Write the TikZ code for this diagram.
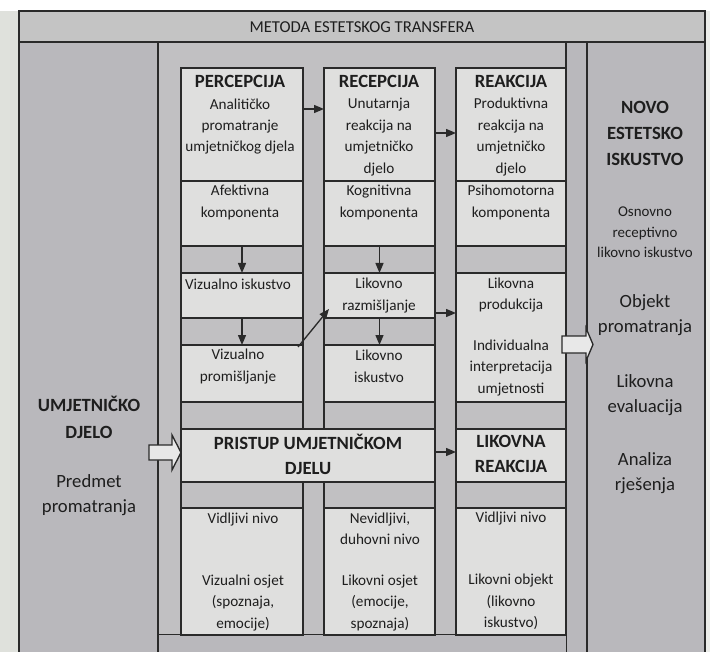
\documentclass[tikz,border=0pt]{standalone}
\usepackage{fontspec}
\setmainfont{Carlito}
\usetikzlibrary{arrows.meta}
\definecolor{colgray}{HTML}{B9B8BC}
\definecolor{titlegray}{HTML}{C4C4C4}
\definecolor{midgray}{HTML}{C1C0C2}
\definecolor{boxfill}{HTML}{DFDFDE}
\definecolor{arrfill}{HTML}{E8E8E8}
\definecolor{linec}{HTML}{2A2A2A}
\definecolor{txtc}{HTML}{1E1E1E}
\definecolor{margin}{HTML}{DFE1DC}
\begin{document}
\begin{tikzpicture}[x=0.75pt,y=-0.75pt,
  line width=1pt,
  frame/.style={draw=linec,line width=1pt},
  box/.style={draw=linec,fill=boxfill,line width=1pt,inner sep=0pt,outer sep=0pt,anchor=north west},
  bx/.style 2 args={box,minimum width={#1*0.75pt},minimum height={#2*0.75pt}},
  arr/.style={draw=linec,line width=1pt,-{Triangle[length=7.5pt,width=6pt]}},
  blockarr/.style={draw=linec,fill=arrfill,line width=1pt,line join=miter},
  body/.style={text=txtc,align=center,inner sep=0pt,font=\fontsize{11.4}{16.1}\selectfont},
  small/.style={text=txtc,align=center,inner sep=0pt,font=\fontsize{11.2}{15.5}\selectfont},
  hd/.style={text=txtc,align=center,inner sep=0pt,font=\fontsize{14}{19.2}\selectfont\bfseries},
  big/.style={text=txtc,align=center,inner sep=0pt,font=\fontsize{14}{18.8}\selectfont},
  ttl/.style={text=txtc,align=center,inner sep=0pt,font=\fontsize{12.5}{15}\selectfont}]
\useasboundingbox (0,0) rectangle (710,652);
% page margins
\fill[white] (0,0) rectangle (710,652);
\fill[margin] (0,11) rectangle (19,652);
\fill[margin!60!white] (705,11) rectangle (710,652);
% frames
\path[frame,fill=titlegray] (19,11) rectangle (705,42);
\path[frame,fill=colgray] (19,42) rectangle (158,656);
\path[frame,fill=midgray] (158,42) rectangle (566,635);
\path[frame,fill=colgray] (566,42) rectangle (587,656);
\path[frame,fill=colgray] (587,42) rectangle (705,656);
\fill[colgray] (158,635) rectangle (566,656);
\draw[linec] (158,42) -- (158,656);
% column outlines
\draw[frame] (181,68) rectangle (303,635);
\draw[frame] (324,68) rectangle (435,635);
\draw[frame] (456,68) rectangle (566,635);
% boxes
\node[bx={122}{113}] (c1a) at (181,68) {};
\node[bx={122}{65}]  (c1b) at (181,181) {};
\node[bx={122}{45}]  (c1c) at (181,273) {};
\node[bx={122}{57}]  (c1d) at (181,345) {};
\node[bx={111}{113}] (c2a) at (324,68) {};
\node[bx={111}{65}]  (c2b) at (324,181) {};
\node[bx={111}{45}]  (c2c) at (324,273) {};
\node[bx={111}{57}]  (c2d) at (324,345) {};
\node[bx={110}{113}] (c3a) at (456,68) {};
\node[bx={110}{65}]  (c3b) at (456,181) {};
\node[bx={110}{129}] (c3c) at (456,273) {};
\node[bx={254}{53}]  (pri) at (181,429) {};
\node[bx={110}{53}]  (lik) at (456,429) {};
\node[bx={122}{127}] (c1e) at (181,508) {};
\node[bx={111}{127}] (c2e) at (324,508) {};
\node[bx={110}{127}] (c3e) at (456,508) {};
% arrows
\draw[arr] (c1a.east |- 0,109) -- (c2a.west |- 0,109);
\draw[arr] (c2a.east |- 0,133) -- (c3a.west |- 0,133);
\draw[arr] (c1b.south) -- (c1c.north);
\draw[arr] (c1c.south) -- (c1d.north);
\draw[arr] (c2b.south) -- (c2c.north);
\draw[arr] (c2c.south) -- (c2d.north);
\draw[arr] ([shift={(-5,2)}]c1d.north east) -- ([shift={(5,-9)}]c2c.south west);
\draw[arr] (c2c.east |- 0,313) -- (c3c.west |- 0,313);
\draw[arr] (pri.east |- 0,452) -- (lik.west |- 0,452);
% block arrows
\draw[blockarr] (149,445) -- (172,445) -- (172,435) -- (181,452.5) -- (172,470) -- (172,460) -- (149,460) -- cycle;
\draw[blockarr] (562,336) -- (586,336) -- (586,328) -- (593,344.5) -- (586,361) -- (586,353) -- (562,353) -- cycle;
% title
\node[ttl] (title) at (362,27) {METODA ESTETSKOG TRANSFERA};
% column 1
\node[hd] (perc) at (240,81) {PERCEPCIJA};
\node[body] (t1a) at (240,126.5) {Analitičko\\promatranje\\umjetničkog djela};
\node[body] (t1b) at (240,202.5) {Afektivna\\komponenta};
\node[body] (t1c) at (238,284) {Vizualno iskustvo};
\node[body] (t1d) at (238,366.5) {Vizualno\\promišljanje};
% column 2
\node[hd] (recp) at (379,81) {RECEPCIJA};
\node[body] (t2a) at (379,137) {Unutarnja\\reakcija na\\umjetničko\\djelo};
\node[body] (t2b) at (379,202.5) {Kognitivna\\komponenta};
\node[body] (t2c) at (379,295.5) {Likovno\\razmišljanje};
\node[body] (t2d) at (379,366.5) {Likovno\\iskustvo};
% column 3
\node[hd] (reak) at (511,81) {REAKCIJA};
\node[body] (t3a) at (511,137) {Produktivna\\reakcija na\\umjetničko\\djelo};
\node[body] (t3b) at (511,202.5) {Psihomotorna\\komponenta};
\node[body] (t3c) at (511,295) {Likovna\\produkcija};
\node[body] (t3d) at (511,368) {Individualna\\interpretacija\\umjetnosti};
% wide boxes
\node[hd] (tpri) at (308,454.5) {PRISTUP UMJETNIČKOM\\DJELU};
\node[hd] (tlik) at (511,454) {LIKOVNA\\REAKCIJA};
% bottom boxes
\node[body] (b1a) at (243,520) {Vidljivi nivo};
\node[body] (b1b) at (243,603) {Vizualni osjet\\(spoznaja,\\emocije)};
\node[body] (b2a) at (380,529) {Nevidljivi,\\duhovni nivo};
\node[body] (b2b) at (380,603) {Likovni osjet\\(emocije,\\spoznaja)};
\node[body] (b3a) at (511,519) {Vidljivi nivo};
\node[body] (b3b) at (511,602) {Likovni objekt\\(likovno\\iskustvo)};
% left column
\node[hd,font=\fontsize{14}{20.3}\selectfont\bfseries] (lh) at (89,417.5) {UMJETNIČKO\\DJELO};
\node[big] (lb) at (89,495.5) {Predmet\\promatranja};
% right column
\node[hd] (rh) at (645,133.5) {NOVO\\ESTETSKO\\ISKUSTVO};
\node[small] (r1) at (645,232.5) {Osnovno\\receptivno\\likovno iskustvo};
\node[big] (r2) at (645,315.5) {Objekt\\promatranja};
\node[big] (r3) at (645,395.5) {Likovna\\evaluacija};
\node[big] (r4) at (645,473) {Analiza\\rješenja};
\end{tikzpicture}
\end{document}
